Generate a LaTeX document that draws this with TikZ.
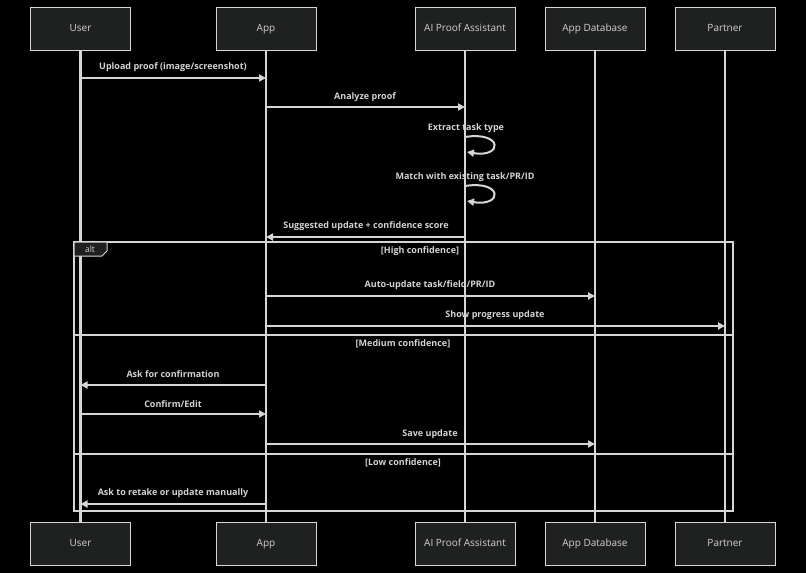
\documentclass[tikz,border=0pt]{standalone}
\usepackage{fontspec}
\setmainfont{Open Sans}
\usetikzlibrary{arrows.meta}
\definecolor{lc}{HTML}{D6D6D6}
\definecolor{boxc}{HTML}{1F2020}
\definecolor{txt}{HTML}{D3D3D3}
\tikzset{
  actor/.style={draw=lc, fill=boxc, line width=0.8pt, minimum width=100pt, minimum height=43pt, inner sep=0pt, text=txt, text height=7.5pt, text depth=2pt, font=\fontsize{10}{12}\selectfont},
  lifeline/.style={draw=lc, line width=2.8pt},
  msg/.style={draw=lc, line width=2pt, -{Triangle[length=7pt,width=7pt]}},
  lbl/.style={text=txt, font=\bfseries\fontsize{9}{10}\selectfont, inner sep=0pt},
  frame/.style={draw=lc, line width=2pt},
  sep/.style={draw=lc, line width=2pt}
}
\begin{document}
\begin{tikzpicture}[x=1pt,y=-1pt]
\fill[black] (0,0) rectangle (806,573);
\useasboundingbox (0,0) rectangle (806,573);
% actors top
\node[actor] (U)  at (80.5,28.5) {User};
\node[actor] (A)  at (266,28.5) {App};
\node[actor] (AI) at (465,28.5) {AI Proof Assistant};
\node[actor] (D)  at (595,28.5) {App Database};
\node[actor] (P)  at (725,28.5) {Partner};
% actors bottom
\node[actor] (Ub)  at (80.5,544) {User};
\node[actor] (Ab)  at (266,544) {App};
\node[actor] (AIb) at (465,544) {AI Proof Assistant};
\node[actor] (Db)  at (595,544) {App Database};
\node[actor] (Pb)  at (725,544) {Partner};
% lifelines
\foreach \t/\b in {U/Ub,A/Ab,AI/AIb,D/Db,P/Pb}{
  \draw[lifeline] (\t.south) -- (\b.north);
}
% alt frame
\coordinate (fTL) at (74,242);
\coordinate (fBR) at (733,511);
\draw[frame] (fTL) rectangle (fBR);
\draw[draw=lc, fill=boxc, line width=1pt] (74,242) -- (107,242) -- (107,251) -- (102,256) -- (74,256) -- cycle;
\node[text=txt, font=\fontsize{8.5}{9}\selectfont, inner sep=0pt] (altl) at (90,249.5) {alt};
% message rows
\coordinate (m1) at (0,78);
\coordinate (m2) at (0,107);
\coordinate (m5) at (0,237);
\coordinate (m7) at (0,296);
\coordinate (m8) at (0,326);
\coordinate (s1) at (0,335);
\coordinate (m10) at (0,385);
\coordinate (m11) at (0,414);
\coordinate (m12) at (0,444);
\coordinate (s2) at (0,454);
\coordinate (m14) at (0,504);
% 1
\draw[msg] (U.south |- m1) -- (A.south |- m1);
\node[lbl] (l1) at (173,67) {Upload proof (image/screenshot)};
% 2
\draw[msg] (A.south |- m2) -- (AI.south |- m2);
\node[lbl] (l2) at (365,97) {Analyze proof};
% 3 self loop
\node[lbl] (l3) at (466,128) {Extract task type};
\coordinate (s3a) at (465,137);
\coordinate (s3b) at (467,152);
\draw[msg] (s3a) .. controls (503,131) and (503,158) .. (s3b);
% 4 self loop
\node[lbl] (l4) at (465,177) {Match with existing task/PR/ID};
\coordinate (s4a) at (465,186);
\coordinate (s4b) at (467,201);
\draw[msg] (s4a) .. controls (503,180) and (503,207) .. (s4b);
% 5
\draw[msg] (AI.south |- m5) -- (A.south |- m5);
\node[lbl] (l5) at (366,226) {Suggested update + confidence score};
% sections
\node[lbl] (c1) at (420,251) {[High confidence]};
\draw[msg] (A.south |- m7) -- (D.south |- m7);
\node[lbl] (l7) at (430,285) {Auto-update task/field/PR/ID};
\draw[msg] (A.south |- m8) -- (P.south |- m8);
\node[lbl] (l8) at (495,315) {Show progress update};
\draw[sep] (fTL |- s1) -- (fBR |- s1);
\node[lbl] (c2) at (403,344) {[Medium confidence]};
\draw[msg] (A.south |- m10) -- (U.south |- m10);
\node[lbl] (l10) at (173,374) {Ask for confirmation};
\draw[msg] (U.south |- m11) -- (A.south |- m11);
\node[lbl] (l11) at (173,404) {Confirm/Edit};
\draw[msg] (A.south |- m12) -- (D.south |- m12);
\node[lbl] (l12) at (430,434) {Save update};
\draw[sep] (fTL |- s2) -- (fBR |- s2);
\node[lbl] (c3) at (403,463) {[Low confidence]};
\draw[msg] (A.south |- m14) -- (U.south |- m14);
\node[lbl] (l14) at (173,493) {Ask to retake or update manually};
\end{tikzpicture}
\end{document}
